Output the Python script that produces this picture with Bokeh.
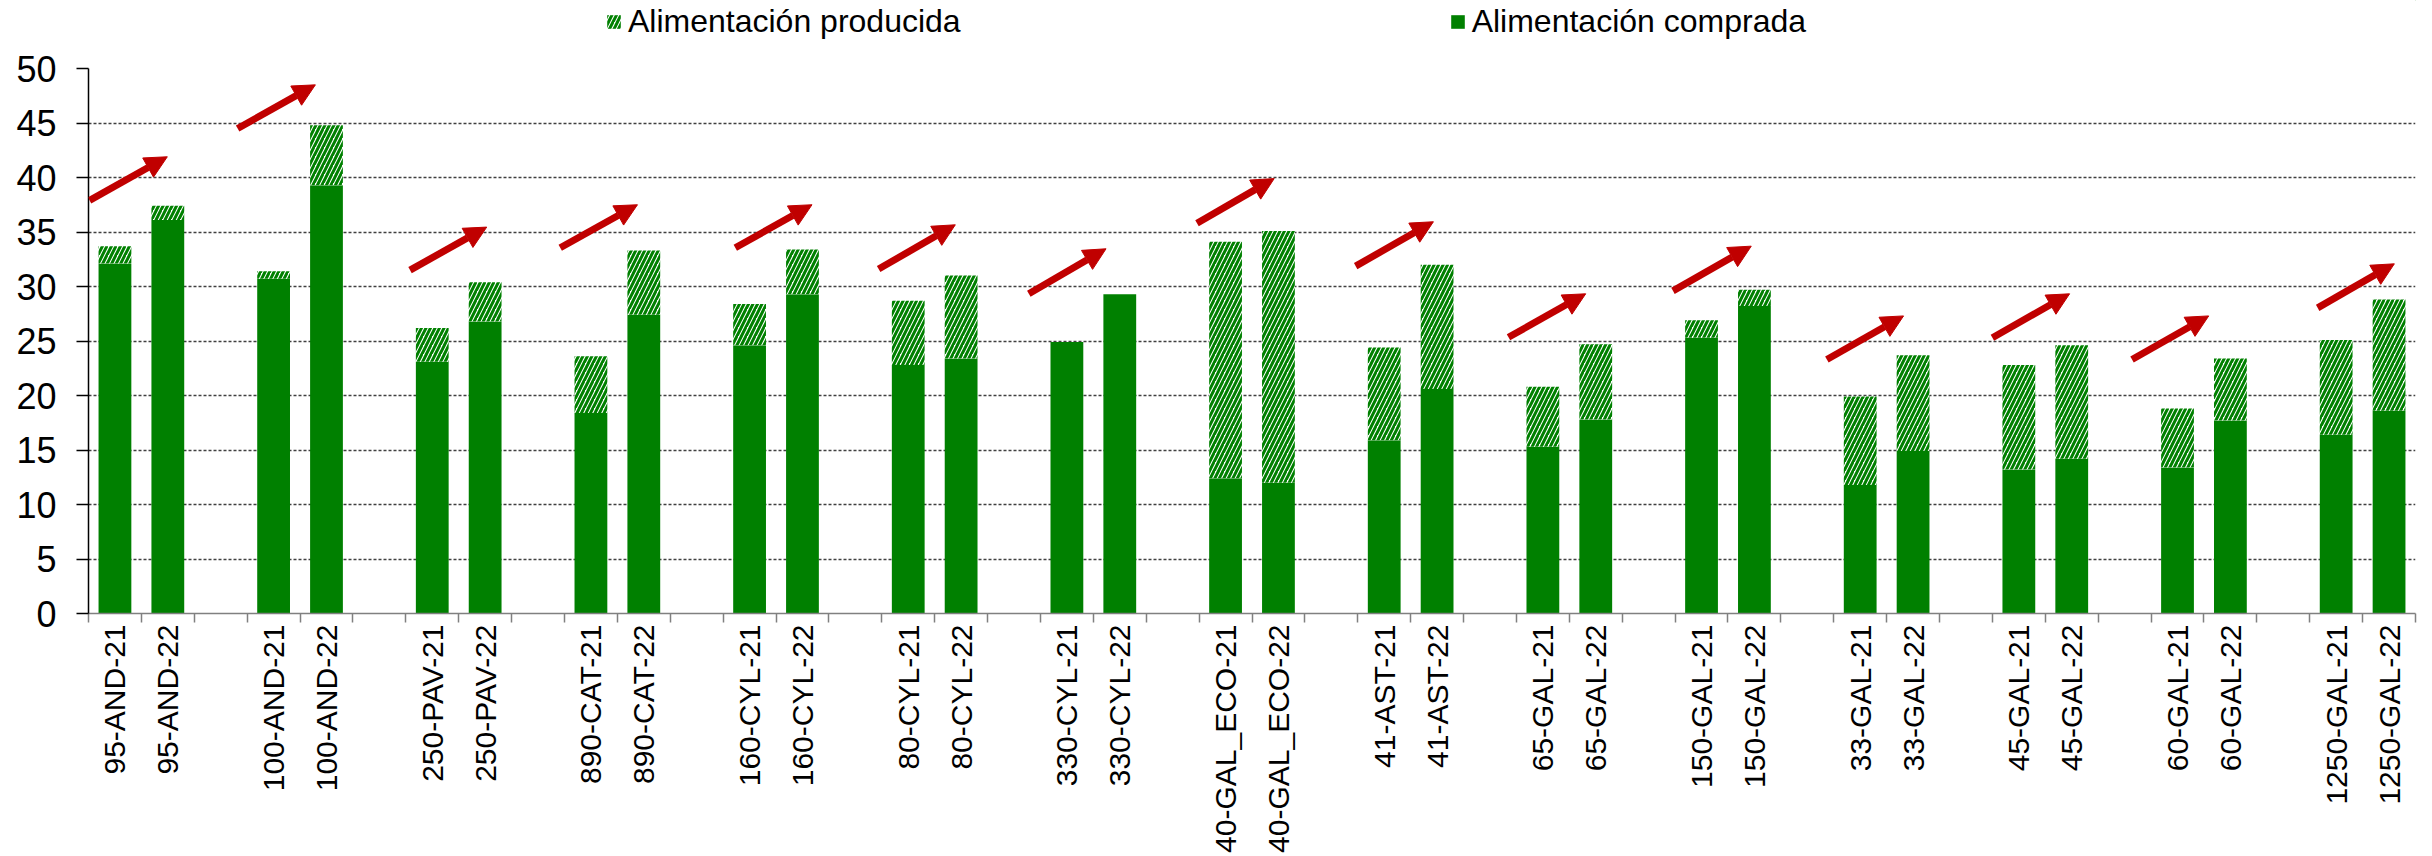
import math
from bokeh.plotting import figure
from bokeh.layouts import column
from bokeh.models import (ColumnDataSource, Range1d, FixedTicker, Legend, LegendItem,
                          Arrow, NormalHead)
from bokeh.embed import file_html
from bokeh.resources import INLINE

# ---- data ----
groups = ["95-AND", "100-AND", "250-PAV", "890-CAT", "160-CYL", "80-CYL", "330-CYL",
          "40-GAL_ECO", "41-AST", "65-GAL", "150-GAL", "33-GAL", "45-GAL", "60-GAL", "1250-GAL"]
years = ["21", "22"]

# Alimentación comprada (purchased feed), per bar
compra = [32.1, 36.1, 30.7, 39.3, 23.1, 26.8, 18.4, 27.4, 24.6, 29.3,
          22.8, 23.4, 24.9, 29.3, 12.4, 12.0, 15.9, 20.6, 15.3, 17.8,
          25.3, 28.2, 11.8, 14.9, 13.2, 14.2, 13.4, 17.7, 16.4, 18.6]
# Alimentación producida (produced feed), per bar
producida = [1.6, 1.3, 0.7, 5.5, 3.1, 3.6, 5.2, 5.9, 3.8, 4.1,
             5.9, 7.6, 0.0, 0.0, 21.7, 23.1, 8.5, 11.4, 5.5, 6.9,
             1.6, 1.5, 8.1, 8.8, 9.6, 10.4, 5.4, 5.7, 8.7, 10.2]

# trend arrows (one per group), in data units
arrow_x_start = [-0.48, 2.32, 5.58, 8.42, 11.73, 14.44, 17.28, 20.46, 23.46, 26.35,
                 29.46, 32.37, 35.50, 38.14, 41.65]
arrow_y_start = [37.9, 44.5, 31.5, 33.55, 33.55, 31.6, 29.33, 35.8, 31.87, 25.34,
                 29.6, 23.3, 25.3, 23.3, 28.04]
arrow_x_end = [0.99, 3.79, 7.03, 9.88, 13.18, 15.89, 18.74, 21.92, 24.93, 27.81,
               30.94, 33.82, 36.96, 39.59, 43.10]
arrow_y_end = [41.9, 48.5, 35.45, 37.5, 37.5, 35.66, 33.46, 39.9, 35.94, 29.33,
               33.7, 27.3, 29.33, 27.3, 32.08]

y_ticks = [0, 5, 10, 15, 20, 25, 30, 35, 40, 45, 50]
series_names = ["Alimentación producida", "Alimentación comprada"]

# ---- derived ----
labels, xs = [], []
for gi, g in enumerate(groups):
    for j, yr in enumerate(years):
        labels.append(f"{g}-{yr}")
        xs.append(gi * 3 + j)
n_slots = len(groups) * 3 - 1
total = [c + pr for c, pr in zip(compra, producida)]

src = ColumnDataSource(dict(x=xs, compra=compra, total=total, zero=[0] * len(xs)))

GREEN = "#008000"
RED = "#C00000"
FONT = "Liberation Sans"
COMP_STYLE = dict(fill_color=GREEN, line_color=None)
PROD_STYLE = dict(fill_color="white", line_color=None, hatch_pattern="/",
                  hatch_color=GREEN, hatch_scale=9, hatch_weight=3)

# ---- main chart ----
p = figure(width=2432, height=808,
           x_range=Range1d(-0.5, n_slots - 0.5), y_range=Range1d(0, 50),
           output_backend="svg", toolbar_location=None,
           min_border_left=88, min_border_right=17, min_border_top=20, min_border_bottom=243)
p.outline_line_color = None
p.background_fill_color = "white"
p.border_fill_color = "white"

r_comp = p.vbar(x="x", bottom="zero", top="compra", width=0.62, source=src, **COMP_STYLE)
r_prod = p.vbar(x="x", bottom="compra", top="total", width=0.62, source=src, **PROD_STYLE)

arr_src = ColumnDataSource(dict(x0=arrow_x_start, y0=arrow_y_start,
                                x1=arrow_x_end, y1=arrow_y_end))
p.add_layout(Arrow(end=NormalHead(size=22, fill_color=RED, line_color=RED, line_width=1),
                   x_start="x0", y_start="y0", x_end="x1", y_end="y1",
                   line_color=RED, line_width=7, source=arr_src))

# grid
p.xgrid.visible = False
p.ygrid.grid_line_color = "#404040"
p.ygrid.grid_line_dash = "3 2"
p.ygrid.grid_line_width = 1.5

# y axis
p.yaxis.ticker = FixedTicker(ticks=y_ticks)
p.yaxis.axis_line_color = "#000000"
p.yaxis.axis_line_width = 1.5
p.yaxis.major_tick_line_color = "#000000"
p.yaxis.major_tick_line_width = 1.5
p.yaxis.major_tick_out = 12
p.yaxis.major_tick_in = 0
p.yaxis.minor_tick_line_color = None
p.yaxis.major_label_standoff = 20
p.yaxis.major_label_text_font = FONT
p.yaxis.major_label_text_font_size = "36px"
p.yaxis.major_label_text_color = "#000000"

# x axis
p.xaxis.ticker = FixedTicker(ticks=xs, minor_ticks=[k - 0.5 for k in range(n_slots + 1)])
p.xaxis.major_label_overrides = {x: lab for x, lab in zip(xs, labels)}
p.xaxis.major_label_orientation = math.pi / 2
p.xaxis.major_tick_out = 0
p.xaxis.major_tick_in = 0
p.xaxis.minor_tick_out = 9
p.xaxis.minor_tick_in = 0
p.xaxis.minor_tick_line_color = "#808080"
p.xaxis.minor_tick_line_width = 1.5
p.xaxis.axis_line_color = "#808080"
p.xaxis.axis_line_width = 1.5
p.xaxis.major_label_standoff = 2
p.xaxis.axis_label_standoff = 0
p.xaxis.major_label_text_font = FONT
p.xaxis.major_label_text_font_size = "30px"
p.xaxis.major_label_text_color = "#000000"

# ---- legend strip above the chart ----
lf = figure(width=2432, height=48, x_range=Range1d(0, 1), y_range=Range1d(0, 1),
            output_backend="svg", toolbar_location=None,
            x_axis_type=None, y_axis_type=None,
            min_border_left=0, min_border_right=0, min_border_top=0, min_border_bottom=0)
lf.outline_line_color = None
lf.grid.visible = False
# swatch renderers for the legend only (drawn outside the visible range)
swatch = ColumnDataSource(dict(x=[5], b=[5], t=[6]))
sw_prod = lf.vbar(x="x", bottom="b", top="t", width=0.1, source=swatch, **PROD_STYLE)
sw_comp = lf.vbar(x="x", bottom="b", top="t", width=0.1, source=swatch, **COMP_STYLE)

legend = Legend(items=[LegendItem(label=series_names[0], renderers=[sw_prod]),
                       LegendItem(label=series_names[1], renderers=[sw_comp])],
                location=(517, 8), orientation="horizontal", spacing=488,
                border_line_color=None, background_fill_alpha=0,
                padding=0, margin=0, glyph_width=17, glyph_height=17, label_standoff=6,
                label_text_font=FONT, label_text_font_size="32px", label_text_color="#000000")
lf.add_layout(legend)

layout = column(lf, p, spacing=0)
open("out.html", "w").write(file_html(layout, INLINE))
